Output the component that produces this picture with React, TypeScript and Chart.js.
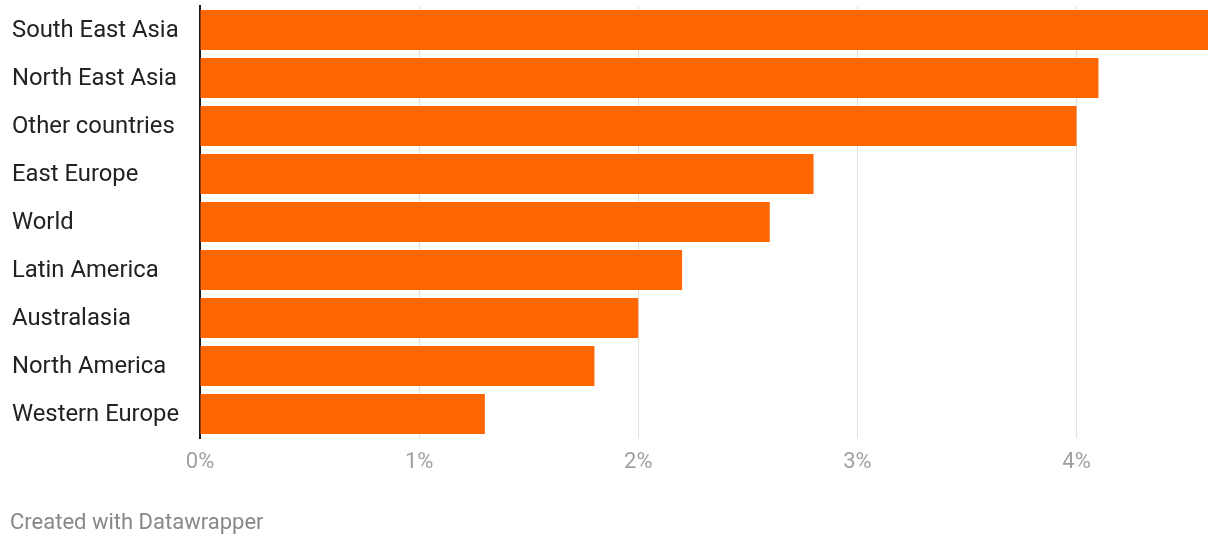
import React, { useEffect, useRef } from "react";
import { Chart, registerables } from "chart.js";

Chart.register(...registerables);

const categories: string[] = [
  "South East Asia",
  "North East Asia",
  "Other countries",
  "East Europe",
  "World",
  "Latin America",
  "Australasia",
  "North America",
  "Western Europe",
];

const values: number[] = [4.6, 4.1, 4.0, 2.8, 2.6, 2.2, 2.0, 1.8, 1.3];

const tickValues: number[] = [0, 1, 2, 3, 4];

const FONT = "Roboto, 'Noto Sans', sans-serif";

export default function App() {
  const ref = useRef<HTMLCanvasElement | null>(null);

  useEffect(() => {
    document.body.style.margin = "0";
    const canvas = ref.current;
    if (!canvas) return;
    const chart = new Chart(canvas, {
      type: "bar",
      data: {
        labels: categories,
        datasets: [
          {
            data: values,
            backgroundColor: "#ff6600",
            borderWidth: 0,
            categoryPercentage: 1,
            barPercentage: 40 / 48,
          },
        ],
      },
      options: {
        indexAxis: "y",
        animation: false,
        responsive: false,
        maintainAspectRatio: false,
        layout: { padding: { left: 12, top: 6, right: 12, bottom: 0 } },
        plugins: {
          legend: { display: false },
          tooltip: { enabled: false },
        },
        scales: {
          x: {
            type: "linear",
            min: 0,
            max: 4.6,
            afterFit: (scale: any) => {
              scale.height = 546 - 438;
              scale.paddingLeft = 0;
              scale.paddingRight = 0;
            },
            afterBuildTicks: (scale: any) => {
              scale.ticks = tickValues.map((v) => ({ value: v }));
            },
            ticks: {
              stepSize: 1,
              includeBounds: false,
              color: "#a0a0a0",
              padding: 11,
              font: { family: FONT, size: 22 },
              callback: (v: any) => `${v}%`,
            },
            grid: {
              color: "#e2e2e2",
              lineWidth: 1,
              drawTicks: false,
            },
            border: { display: false },
          },
          y: {
            afterFit: (scale: any) => {
              scale.width = 188;
              scale.paddingTop = 0;
              scale.paddingBottom = 0;
            },
            ticks: {
              crossAlign: "far",
              color: "#222222",
              font: { family: FONT, size: 23.8 },
              padding: 0,
              labelOffset: 1.5,
            },
            grid: { display: false, drawTicks: false },
            border: { display: true, color: "#1a1a1a", width: 2 },
          },
        },
      },
    });
    return () => chart.destroy();
  }, []);

  return (
    <div style={{ position: "relative", width: 1220, height: 546, background: "#fff" }}>
      <canvas ref={ref} width={1220} height={546} style={{ display: "block" }} />
      <div
        style={{
          position: "absolute",
          left: 10,
          top: 509,
          fontFamily: FONT,
          fontSize: 22,
          color: "#888888",
          lineHeight: "26px",
          whiteSpace: "nowrap",
        }}
      >
        Created with Datawrapper
      </div>
    </div>
  );
}
